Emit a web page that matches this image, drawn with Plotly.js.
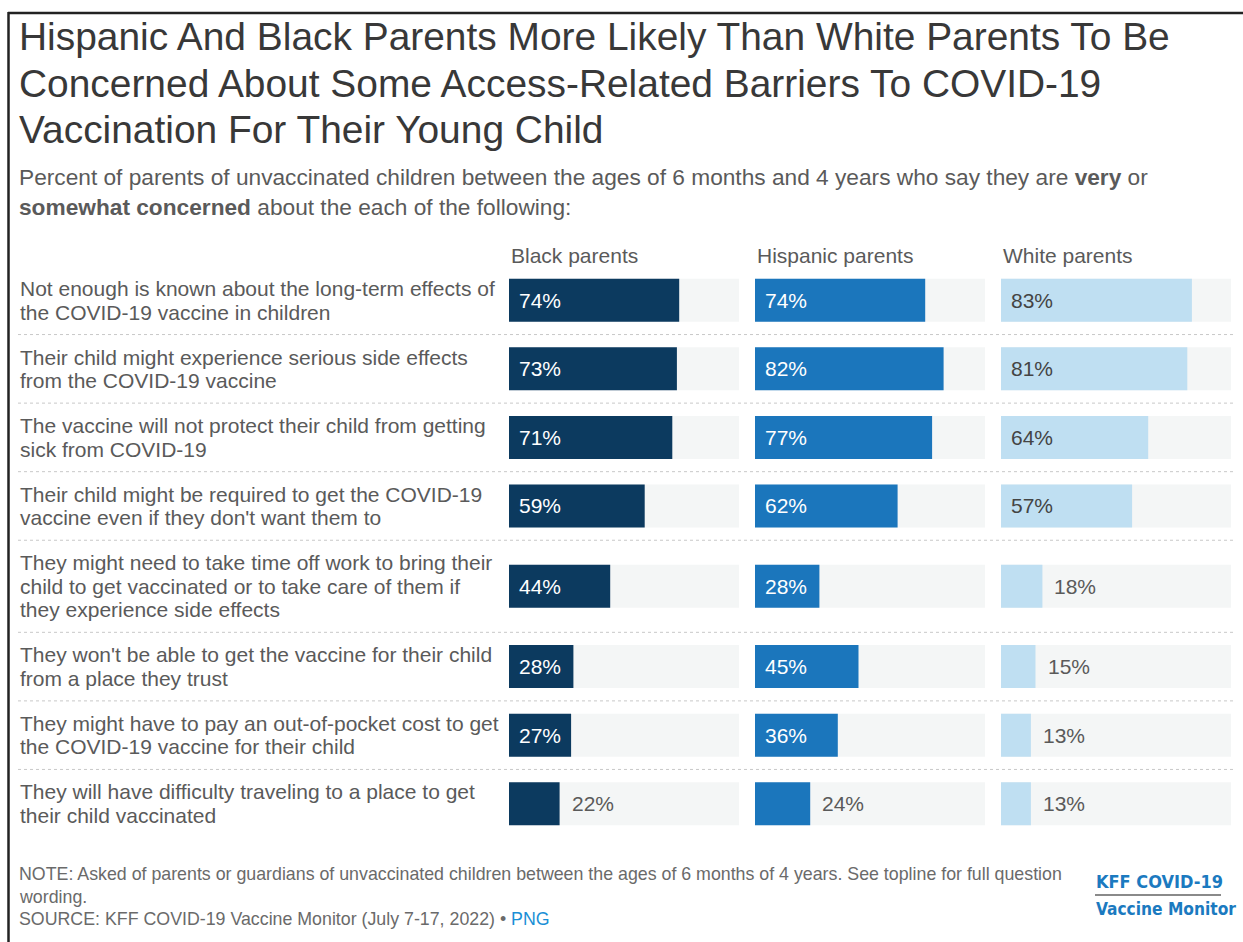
<!DOCTYPE html>
<html>
<head>
<meta charset="utf-8">
<script src="https://cdn.plot.ly/plotly-3.0.1.min.js"></script>
<style>
  html, body { margin: 0; padding: 0; background: #fff; }
  #chart { width: 1243px; height: 942px; }
</style>
</head>
<body>
<div id="chart"></div>
<script>
// ---- Data ----
const categories = [
  "Not enough is known about the long-term effects of<br>the COVID-19 vaccine in children",
  "Their child might experience serious side effects<br>from the COVID-19 vaccine",
  "The vaccine will not protect their child from getting<br>sick from COVID-19",
  "Their child might be required to get the COVID-19<br>vaccine even if they don't want them to",
  "They might need to take time off work to bring their<br>child to get vaccinated or to take care of them if<br>they experience side effects",
  "They won't be able to get the vaccine for their child<br>from a place they trust",
  "They might have to pay an out-of-pocket cost to get<br>the COVID-19 vaccine for their child",
  "They will have difficulty traveling to a place to get<br>their child vaccinated"
];
const groupNames = ["Black parents", "Hispanic parents", "White parents"];
const blackValues = [74, 73, 71, 59, 44, 28, 27, 22];
const hispanicValues = [74, 82, 77, 62, 28, 45, 36, 24];
const whiteValues = [83, 81, 64, 57, 18, 15, 13, 13];
const seriesValues = [blackValues, hispanicValues, whiteValues];

const titleLines = [
  "Hispanic And Black Parents More Likely Than White Parents To Be",
  "Concerned About Some Access-Related Barriers To COVID-19",
  "Vaccination For Their Young Child"
];
const subtitleLines = [
  "Percent of parents of unvaccinated children between the ages of 6 months and 4 years who say they are <b>very</b> or",
  "<b>somewhat concerned</b> about the each of the following:"
];
const noteLines = [
  "NOTE: Asked of parents or guardians of unvaccinated children between the ages of 6 months of 4 years. See topline for full question",
  "wording.",
  "SOURCE: KFF COVID-19 Vaccine Monitor (July 7-17, 2022) \u2022 <span style=\"color:#1a8fd6\">PNG</span>"
];

// ---- Styles / geometry ----
const W = 1243, H = 942;
const px = x => x / W;
const py = y => 1 - y / H;
const barColors = ["#0c3a5f", "#1b76bc", "#bfdff2"];
const insideTextColors = ["#ffffff", "#ffffff", "#444444"];
const trackColor = "#f4f6f6";
const panelX = [[509, 739], [755, 985], [1001, 1231]];
const plotTop = 266, plotBottom = 838;
const baseRowH = 68.5, extraLineH = 23.5, barW = 43, labelLineH = 23.5;

// row layout derived from label line counts
const labelLines = categories.map(c => c.split("<br>"));
const rowHeights = labelLines.map(l => baseRowH + (l.length - 2) * extraLineH);
const rowCenters = [];
const rowBounds = [];
let acc = 0;
rowHeights.forEach(h => { rowCenters.push(acc + h / 2); acc += h; rowBounds.push(acc); });
const totalH = acc;

const traces = [];
const annotations = [];
const shapes = [];
const layout = {
  width: W, height: H,
  margin: {l: 0, r: 0, t: 0, b: 0},
  paper_bgcolor: "#ffffff",
  plot_bgcolor: "rgba(0,0,0,0)",
  barmode: "overlay",
  showlegend: false,
  font: {family: "Liberation Sans, Arial, sans-serif", color: "#5a5a5a"},
  yaxis: {range: [totalH, 0], domain: [py(plotBottom), py(plotTop)], visible: false, fixedrange: true, anchor: "x"}
};

seriesValues.forEach((vals, g) => {
  const ax = g === 0 ? "x" : "x" + (g + 1);
  const axKey = g === 0 ? "xaxis" : "xaxis" + (g + 1);
  layout[axKey] = {range: [0, 100], domain: [px(panelX[g][0]), px(panelX[g][1])], visible: false, fixedrange: true, anchor: "y"};
  traces.push({
    type: "bar", orientation: "h", xaxis: ax, yaxis: "y",
    x: vals.map(() => 100), y: rowCenters, width: barW,
    marker: {color: trackColor, line: {width: 0}}, hoverinfo: "skip"
  });
  traces.push({
    type: "bar", orientation: "h", xaxis: ax, yaxis: "y", name: groupNames[g],
    x: vals, y: rowCenters, width: barW,
    marker: {color: barColors[g], line: {width: 0}},
    hovertemplate: groupNames[g] + ": %{x}%<extra></extra>"
  });
  // header
  annotations.push({
    xref: "paper", yref: "paper", x: px(panelX[g][0]), y: py(255), xanchor: "left", yanchor: "middle",
    text: groupNames[g], showarrow: false, font: {size: 21, color: "#5a5a5a"}
  });
  // value labels
  vals.forEach((v, i) => {
    const inside = v >= 25;
    annotations.push({
      xref: ax, yref: "y", x: inside ? 0 : v, y: rowCenters[i],
      xshift: inside ? 8 : 10, xanchor: "left", yanchor: "middle",
      text: v + "%",
      showarrow: false,
      font: {size: 21, color: inside ? insideTextColors[g] : "#5a5a5a"}
    });
  });
});

// category labels (one annotation per line for exact line spacing)
labelLines.forEach((lines, i) => {
  lines.forEach((t, j) => {
    annotations.push({
      xref: "paper", yref: "y", x: px(18), y: rowCenters[i] + (j - (lines.length - 1) / 2) * labelLineH,
      xanchor: "left", yanchor: "middle", align: "left", text: t, showarrow: false,
      font: {size: 21, color: "#5a5a5a"}
    });
  });
});

// dotted separators
rowBounds.slice(0, -1).forEach(b => {
  shapes.push({type: "line", xref: "paper", yref: "y", x0: px(18), x1: px(1233), y0: b, y1: b,
    line: {color: "#c8c8c8", width: 1, dash: "dot"}});
});

// title lines
titleLines.forEach((t, i) => {
  annotations.push({xref: "paper", yref: "paper", x: px(17), y: py(37 + i * 46.5), xanchor: "left", yanchor: "middle",
    text: t, showarrow: false, font: {size: 38.9, color: "#383838"}});
});
subtitleLines.forEach((t, i) => {
  annotations.push({xref: "paper", yref: "paper", x: px(17), y: py(177 + i * 29.5), xanchor: "left", yanchor: "middle",
    text: t, showarrow: false, font: {size: 22.7, color: "#5a5a5a"}});
});
noteLines.forEach((t, i) => {
  annotations.push({xref: "paper", yref: "paper", x: px(17), y: py(874 + i * 22.5), xanchor: "left", yanchor: "middle",
    text: t, showarrow: false, font: {size: 17.8, color: "#6a6a6a"}});
});

// logo
annotations.push({xref: "paper", yref: "paper", x: px(1094), y: py(881), xanchor: "left", yanchor: "middle",
  text: "<b>KFF COVID-19</b>", showarrow: false,
  font: {size: 18, color: "#1b7ac0", family: "DejaVu Sans Condensed, Liberation Sans Narrow, sans-serif"}});
annotations.push({xref: "paper", yref: "paper", x: px(1094), y: py(909), xanchor: "left", yanchor: "middle",
  text: "<b>Vaccine Monitor</b>", showarrow: false,
  font: {size: 17.2, color: "#1b7ac0", family: "DejaVu Sans Condensed, Liberation Sans Narrow, sans-serif"}});
shapes.push({type: "line", xref: "paper", yref: "paper", x0: px(1095), x1: px(1221), y0: py(895), y1: py(895),
  line: {color: "#8a8a8a", width: 2}});

// frame border (top and left)
shapes.push({type: "line", xref: "paper", yref: "paper", x0: px(8), x1: 1, y0: py(13), y1: py(13),
  line: {color: "#222", width: 2.5}});
shapes.push({type: "line", xref: "paper", yref: "paper", x0: px(8.5), x1: px(8.5), y0: py(12), y1: 0,
  line: {color: "#222", width: 2.5}});

layout.annotations = annotations;
layout.shapes = shapes;

Plotly.newPlot("chart", traces, layout, {displayModeBar: false});
</script>
</body>
</html>
